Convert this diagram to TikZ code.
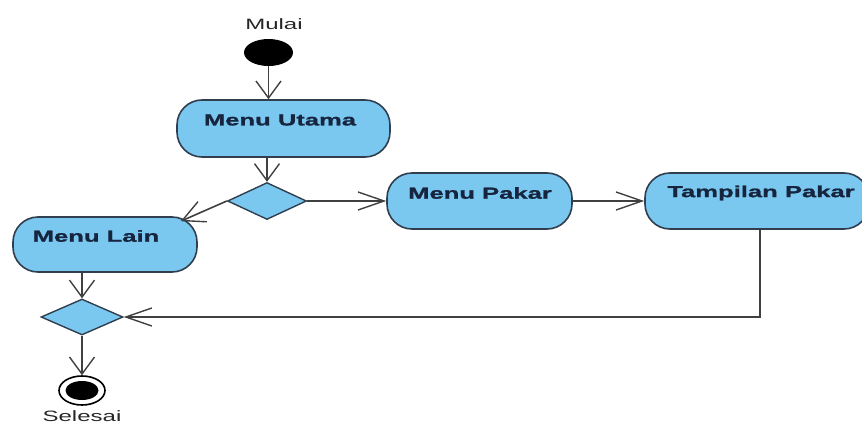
\documentclass[tikz,border=0pt]{standalone}
\usepackage{fontspec}
\newfontfamily\stretchsans[FakeStretch=1.6, BoldFeatures={FakeBold=1.2}]{Liberation Sans}
\usetikzlibrary{shapes.geometric,arrows.meta,calc}
\definecolor{boxfill}{RGB}{122,200,240}
\definecolor{boxline}{RGB}{48,62,78}
\definecolor{txtcol}{RGB}{22,36,62}
\definecolor{linecol}{RGB}{64,64,64}
\tikzset{
  act/.style={draw=boxline, fill=boxfill, line width=1.6pt, rounded corners=25pt, inner sep=0pt},
  lbl/.style={font=\stretchsans\fontsize{16}{18}\selectfont\bfseries, text=txtcol, inner sep=0pt},
  captext/.style={font=\stretchsans\fontsize{15}{17}\selectfont, text=black!85, inner sep=0pt},
  dec/.style={diamond, draw=boxline, fill=boxfill, line width=1.4pt, inner sep=0pt},
  conn/.style={draw=linecol, line width=1.6pt},
  harr/.style={conn, -{Straight Barb[length=26pt,width=18pt,line width=1.4pt]}},
  varr/.style={conn, -{Straight Barb[length=17pt,width=25pt,line width=1.4pt]}},
  darr/.style={conn, -{Straight Barb[length=22pt,width=22pt,line width=1.4pt]}},
}
\begin{document}
\begin{tikzpicture}[x=1pt,y=-1pt]
\useasboundingbox (0,0) rectangle (862,423);
\clip (0,0) rectangle (862,423);
% start
\node[captext] (mulai) at (274,24) {Mulai};
\node[ellipse, fill=black, minimum width=49pt, minimum height=27pt, inner sep=0pt] (start) at (268.5,52.5) {};
% boxes
\node[act, minimum width=213pt, minimum height=57pt] (mu) at (283.5,128.5) {};
\node[lbl] (mut) at (280,120) {Menu Utama};
\node[act, minimum width=185pt, minimum height=56pt] (mp) at (479.5,201) {};
\node[lbl] (mpt) at (480,193) {Menu Pakar};
\node[act, minimum width=224pt, minimum height=56pt] (tp) at (757,201) {};
\node[lbl] (tpt) at (761,193) {Tampilan Pakar};
\node[act, minimum width=184pt, minimum height=55pt] (ml) at (105,244.5) {};
\node[lbl] (mlt) at (96,236) {Menu Lain};
% decisions
\node[dec, minimum width=79pt, minimum height=37pt] (d1) at (267,201) {};
\node[dec, minimum width=82pt, minimum height=36pt] (d2) at (82,317) {};
% end
\node[ellipse, draw=black, line width=1.6pt, fill=white, minimum width=46pt, minimum height=29pt, inner sep=0pt] (end) at (82,390.5) {};
\node[ellipse, fill=black, minimum width=33pt, minimum height=19pt, inner sep=0pt] (endin) at (end.center) {};
\node[captext] (selesai) at (82,416) {Selesai};
% connectors
\draw[varr] (start.south) -- (start.south |- mu.north);
\draw[varr] (d1.north |- mu.south) -- (d1.north);
\draw[harr] (d1.east) -- (mp.west);
\draw[harr] (mp.east) -- (tp.west);
\draw[darr] (d1.west) -- ($(ml.north east)+(-17,5)$);
\draw[varr] (d2.north |- ml.south) -- (d2.north);
\draw[harr] ($(tp.south)+(3,0)$) |- (d2.east);
\draw[varr] (d2.south) -- (end.north);
\end{tikzpicture}
\end{document}
